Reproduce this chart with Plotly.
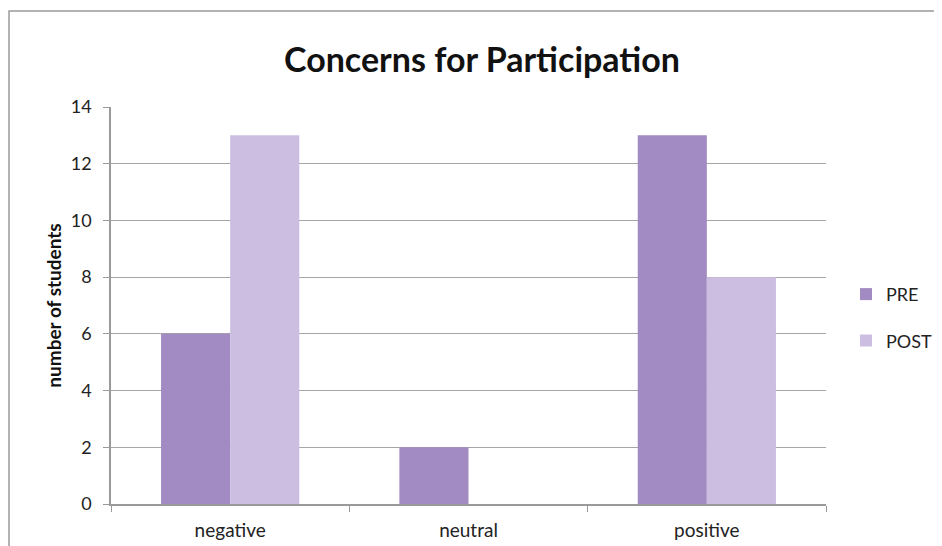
import plotly.graph_objects as go

categories = ["negative", "neutral", "positive"]
pre_values = [6, 2, 13]
post_values = [13, 0, 8]
series_names = ["PRE", "POST"]
y_ticks = [0, 2, 4, 6, 8, 10, 12, 14]

FONT = "Lato, 'Open Sans', sans-serif"
W, H = 942, 546
# the page body adds an 8px offset, so margins are shifted accordingly
L, R, T, B = 103, 124, 99, 50

fig = go.Figure()
fig.add_trace(go.Bar(
    x=categories, y=pre_values, name=series_names[0],
    marker=dict(color="#a28ac2", line=dict(width=0)),
    legendgroup="pre",
))
fig.add_trace(go.Bar(
    x=categories, y=post_values, name=series_names[1],
    marker=dict(color="#cbbee1", line=dict(width=0)),
    legendgroup="post",
))

# chart frame (top and left edges of the screenshot crop)
pw, ph = W - L - R, H - T - B
fig.add_shape(type="rect", xref="paper", yref="paper",
              x0=(1 - L) / pw, x1=(W + 20 - L) / pw,
              y0=-(B + 20) / ph, y1=(H - 3 - B) / ph,
              line=dict(color="#9a9a9a", width=1.5), layer="below")

fig.update_layout(
    width=W, height=H,
    margin=dict(l=L, r=R, t=T, b=B, autoexpand=False),
    paper_bgcolor="white", plot_bgcolor="white",
    barmode="group", bargap=0.42, bargroupgap=0,
    title=dict(text="<b>Concerns for Participation</b>", x=474 / W, xanchor="center",
               y=1 - 52 / H, yanchor="middle",
               font=dict(family=FONT, size=34, color="#111")),
    font=dict(family=FONT, size=18, color="#222"),
    legend=dict(x=1.028, xanchor="left", y=0.47, yanchor="middle",
                traceorder="grouped", tracegroupgap=20,
                font=dict(size=18, color="#222"), itemwidth=30),
    xaxis=dict(showline=True, linecolor="#9a9a9a", linewidth=1.5,
               ticks="outside", tickson="boundaries", ticklen=6, tickcolor="#9a9a9a",
               tickfont=dict(size=19), showgrid=False, ticklabelstandoff=8),
    yaxis=dict(range=[0, 14], tickvals=y_ticks, showline=True, linecolor="#9a9a9a",
               linewidth=1.5, ticks="outside", ticklen=6, tickcolor="#9a9a9a",
               showgrid=True, gridcolor="#a6a6a6", gridwidth=1,
               zeroline=False, tickfont=dict(size=18), ticklabelstandoff=8,
               title=dict(text="<b>number of students</b>", standoff=4,
                          font=dict(size=19, color="#111"))),
)

fig.write_html("out.html")
